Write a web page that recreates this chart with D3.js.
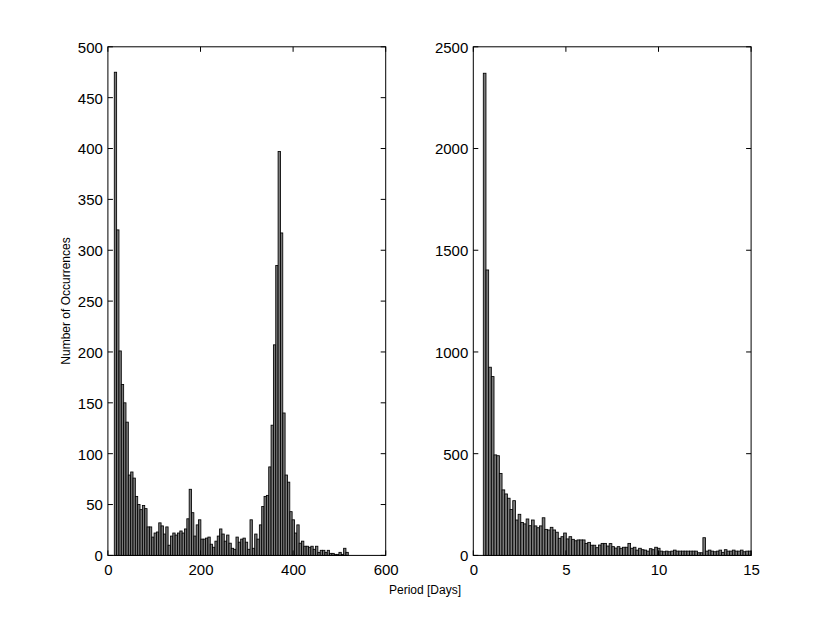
<!DOCTYPE html>
<html>
<head>
<meta charset="utf-8">
<script src="https://cdn.jsdelivr.net/npm/d3@7"></script>
<style>
  body { margin: 0; background: #fff; }
  svg { display: block; }
  text { font-family: "Liberation Sans", Arial, Helvetica, sans-serif; fill: #000; }
</style>
</head>
<body>
<svg id="chart" width="830" height="624"></svg>
<script>
// ---- Data ----
// Left panel: histogram of periods (days), 100 equal bins between these edges
const leftBinRange = [13.8, 519.2];
const leftCounts = [
  475, 320, 201, 168, 150, 131, 79, 82, 76, 58,
  50, 45, 49, 46, 28, 28, 18, 22, 23, 32,
  29, 21, 28, 10, 19, 22, 20, 22, 24, 22,
  26, 36, 65, 42, 19, 30, 35, 16, 16, 17,
  18, 11, 8, 14, 19, 26, 21, 14, 20, 12,
  7, 6, 18, 13, 16, 17, 13, 6, 35, 7,
  21, 16, 30, 48, 58, 59, 87, 128, 207, 285,
  397, 317, 140, 79, 72, 43, 35, 22, 30, 12,
  14, 9, 9, 8, 9, 6, 9, 3, 5, 5,
  3, 5, 2, 2, 1, 1, 3, 1, 7, 3
];
const leftXTicks = [0, 200, 400, 600];
const leftYTicks = [0, 50, 100, 150, 200, 250, 300, 350, 400, 450, 500];

// Right panel: histogram of periods (days), 100 equal bins between these edges
const rightBinRange = [0.54, 15.0];
const rightCounts = [
  2370, 1403, 925, 879, 494, 490, 403, 322, 302, 281,
  226, 269, 174, 202, 162, 155, 179, 146, 174, 145,
  136, 145, 185, 128, 125, 138, 125, 114, 84, 92,
  110, 81, 92, 79, 72, 76, 76, 76, 59, 64,
  50, 50, 38, 51, 59, 59, 46, 58, 43, 36,
  43, 35, 40, 40, 59, 35, 40, 26, 35, 28,
  26, 21, 33, 28, 40, 35, 21, 18, 21, 18,
  21, 26, 21, 21, 21, 21, 21, 21, 21, 21,
  13, 13, 87, 21, 26, 21, 18, 21, 26, 15,
  28, 21, 21, 26, 21, 21, 26, 18, 21, 21
];
const rightXTicks = [0, 5, 10, 15];
const rightYTicks = [0, 500, 1000, 1500, 2000, 2500];

const xLabelText = "Period [Days]";
const yLabelText = "Number of Occurrences";

// ---- Layout ----
const svg = d3.select("#chart");
const axTop = 46.8, axBottom = 555.4;
const panels = [
  { left: 107.9, right: 385.7, xDomain: [0, 600], yDomain: [0, 500],
    xTicks: leftXTicks, yTicks: leftYTicks, counts: leftCounts, range: leftBinRange },
  { left: 473.3, right: 751.1, xDomain: [0, 15], yDomain: [0, 2500],
    xTicks: rightXTicks, yTicks: rightYTicks, counts: rightCounts, range: rightBinRange }
];
const tickLen = 5;
const fontSize = 15;

panels.forEach(p => {
  const x = d3.scaleLinear().domain(p.xDomain).range([p.left, p.right]);
  const y = d3.scaleLinear().domain(p.yDomain).range([axBottom, axTop]);
  const g = svg.append("g");

  const n = p.counts.length;
  const bw = (p.range[1] - p.range[0]) / n;
  const bins = p.counts.map((c, i) => ({ x0: p.range[0] + i * bw, x1: p.range[0] + (i + 1) * bw, c }));

  g.selectAll("rect.bar").data(bins).enter().append("rect")
    .attr("class", "bar")
    .attr("x", d => x(d.x0))
    .attr("width", d => x(d.x1) - x(d.x0))
    .attr("y", d => y(d.c))
    .attr("height", d => y(0) - y(d.c))
    .attr("fill", "#7a7a7a")
    .attr("stroke", "#000")
    .attr("stroke-width", 0.85);

  // Bottom axis with labels
  const xb = d3.axisBottom(x).tickValues(p.xTicks).tickSize(0).tickPadding(9).tickFormat(d3.format("d"));
  const gx = g.append("g").attr("transform", `translate(0,${axBottom})`).call(xb);
  gx.select(".domain").remove();
  gx.selectAll("text").style("font-size", fontSize + "px").attr("fill", "#000");

  const yl = d3.axisLeft(y).tickValues(p.yTicks).tickSize(0).tickPadding(5).tickFormat(d3.format("d"));
  const gy = g.append("g").attr("transform", `translate(${p.left},0)`).call(yl);
  gy.select(".domain").remove();
  gy.selectAll("text").style("font-size", fontSize + "px").attr("fill", "#000").attr("dy", "0.36em");

  // Inward tick marks on all four sides
  const tk = g.append("g").attr("stroke", "#000").attr("stroke-width", 1);
  p.yTicks.forEach(v => {
    tk.append("line").attr("x1", p.left).attr("x2", p.left + tickLen).attr("y1", y(v)).attr("y2", y(v));
    tk.append("line").attr("x1", p.right).attr("x2", p.right - tickLen).attr("y1", y(v)).attr("y2", y(v));
  });
  p.xTicks.forEach(v => {
    tk.append("line").attr("x1", x(v)).attr("x2", x(v)).attr("y1", axBottom).attr("y2", axBottom - tickLen);
    tk.append("line").attr("x1", x(v)).attr("x2", x(v)).attr("y1", axTop).attr("y2", axTop + tickLen);
  });

  // Box
  g.append("rect")
    .attr("x", p.left).attr("y", axTop)
    .attr("width", p.right - p.left).attr("height", axBottom - axTop)
    .attr("fill", "none").attr("stroke", "#000").attr("stroke-width", 1);
});

svg.append("text")
  .attr("x", 425).attr("y", 594)
  .attr("text-anchor", "middle")
  .style("font-size", "12px")
  .text(xLabelText);

svg.append("text")
  .attr("transform", "translate(70,301) rotate(-90)")
  .attr("text-anchor", "middle")
  .style("font-size", "12px")
  .text(yLabelText);
</script>
</body>
</html>
